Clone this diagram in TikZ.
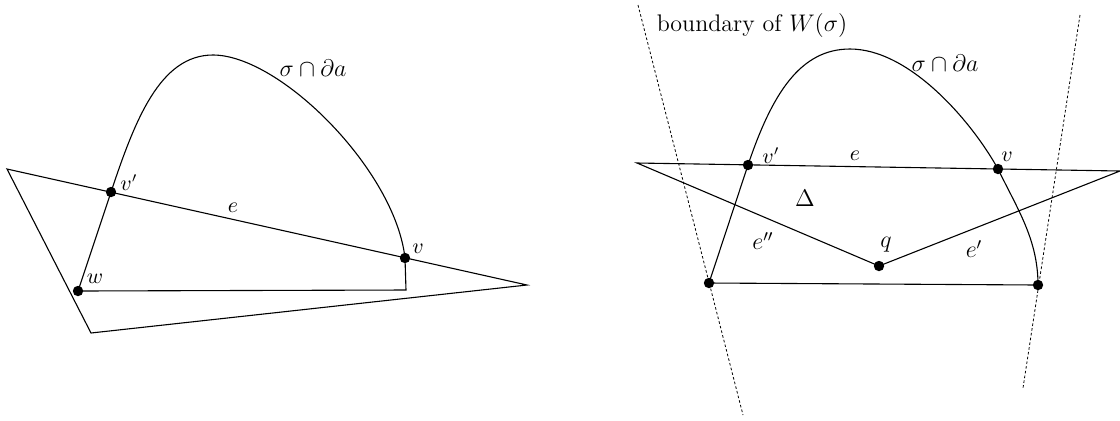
\documentclass[tikz,border=0pt]{standalone}
\begin{document}
\begin{tikzpicture}[x=0.5pt,y=-0.5pt, line width=0.55pt,
  dot/.style={circle,fill,inner sep=0pt,minimum size=5.2pt},
  lbl/.style={inner sep=0pt,font=\fontsize{10.5}{12}\selectfont},
  biglbl/.style={inner sep=0pt,font=\fontsize{12}{14}\selectfont},
  wall/.style={line width=0.4pt,dash pattern=on 1.3pt off 1.1pt}]
\useasboundingbox (0,0) rectangle (1120,420);
% ---------- left figure ----------
\coordinate (LA) at (7,169);
\coordinate (LB) at (91,333);
\coordinate (LC) at (527,285);
\coordinate (Lw) at (78,291);
\coordinate (Lvp) at (111,192);
\coordinate (Lpk) at (213,55);
\coordinate (Lv) at (405,258);
\coordinate (Lcorner) at (406,290);
\draw (LA) -- (LB) -- (LC) -- cycle;
\draw (Lw) -- (Lvp) .. controls (135,120) and (160,55) .. (Lpk)
  .. controls (280,55) and (395,170) .. (Lv) -- (Lcorner) -- (Lw);
\node[dot] (dLw) at (Lw) {};
\node[dot] (dLvp) at (Lvp) {};
\node[dot] (dLv) at (Lv) {};
\node[lbl] (tLvp) at (129,183) {$v'$};
\node[lbl] (tLw) at (95,279) {$w$};
\node[lbl] (tLe) at (233,208) {$e$};
\node[lbl] (tLv) at (418,249) {$v$};
\node[biglbl] (tLs) at (313,68) {$\sigma\cap\partial a$};
% ---------- right figure ----------
\coordinate (RA) at (637,163);
\coordinate (RB) at (1120,171);
\coordinate (Rq) at (879,266);
\coordinate (Rvp) at (748,165);
\coordinate (Rv) at (998,169);
\coordinate (Rpk) at (850,49);
\coordinate (RL) at (709,283);
\coordinate (RR) at (1038,285);
\coordinate (W1a) at (638,5);
\coordinate (W1b) at (743,415);
\coordinate (W2a) at (1080,15);
\coordinate (W2b) at (1023,388);
\draw[wall] (W1a) -- (W1b);
\draw[wall] (W2a) -- (W2b);
\draw (RA) -- (RB) -- (Rq) -- cycle;
\draw (RL) -- (Rvp) .. controls (772,94) and (800,49) .. (Rpk)
  .. controls (910,49) and (972,122) .. (Rv)
  .. controls (1018,210) and (1038,240) .. (RR) -- (RL);
\node[dot] (dRL) at (RL) {};
\node[dot] (dRR) at (RR) {};
\node[dot] (dRvp) at (Rvp) {};
\node[dot] (dRv) at (Rv) {};
\node[dot] (dRq) at (Rq) {};
\node[biglbl] (tB) at (752,25) {boundary of $W(\sigma)$};
\node[biglbl] (tRs) at (945,63) {$\sigma\cap\partial a$};
\node[lbl] (tRvp) at (771,156) {$v'$};
\node[lbl] (tRe) at (855,156) {$e$};
\node[lbl] (tRv) at (1007,157) {$v$};
\node[biglbl] (tD) at (805,198) {$\Delta$};
\node[biglbl] (tRepp) at (763,241) {$e''$};
\node[biglbl] (tRq) at (886,245) {$q$};
\node[biglbl] (tRep) at (974,249) {$e'$};
\end{tikzpicture}
\end{document}
